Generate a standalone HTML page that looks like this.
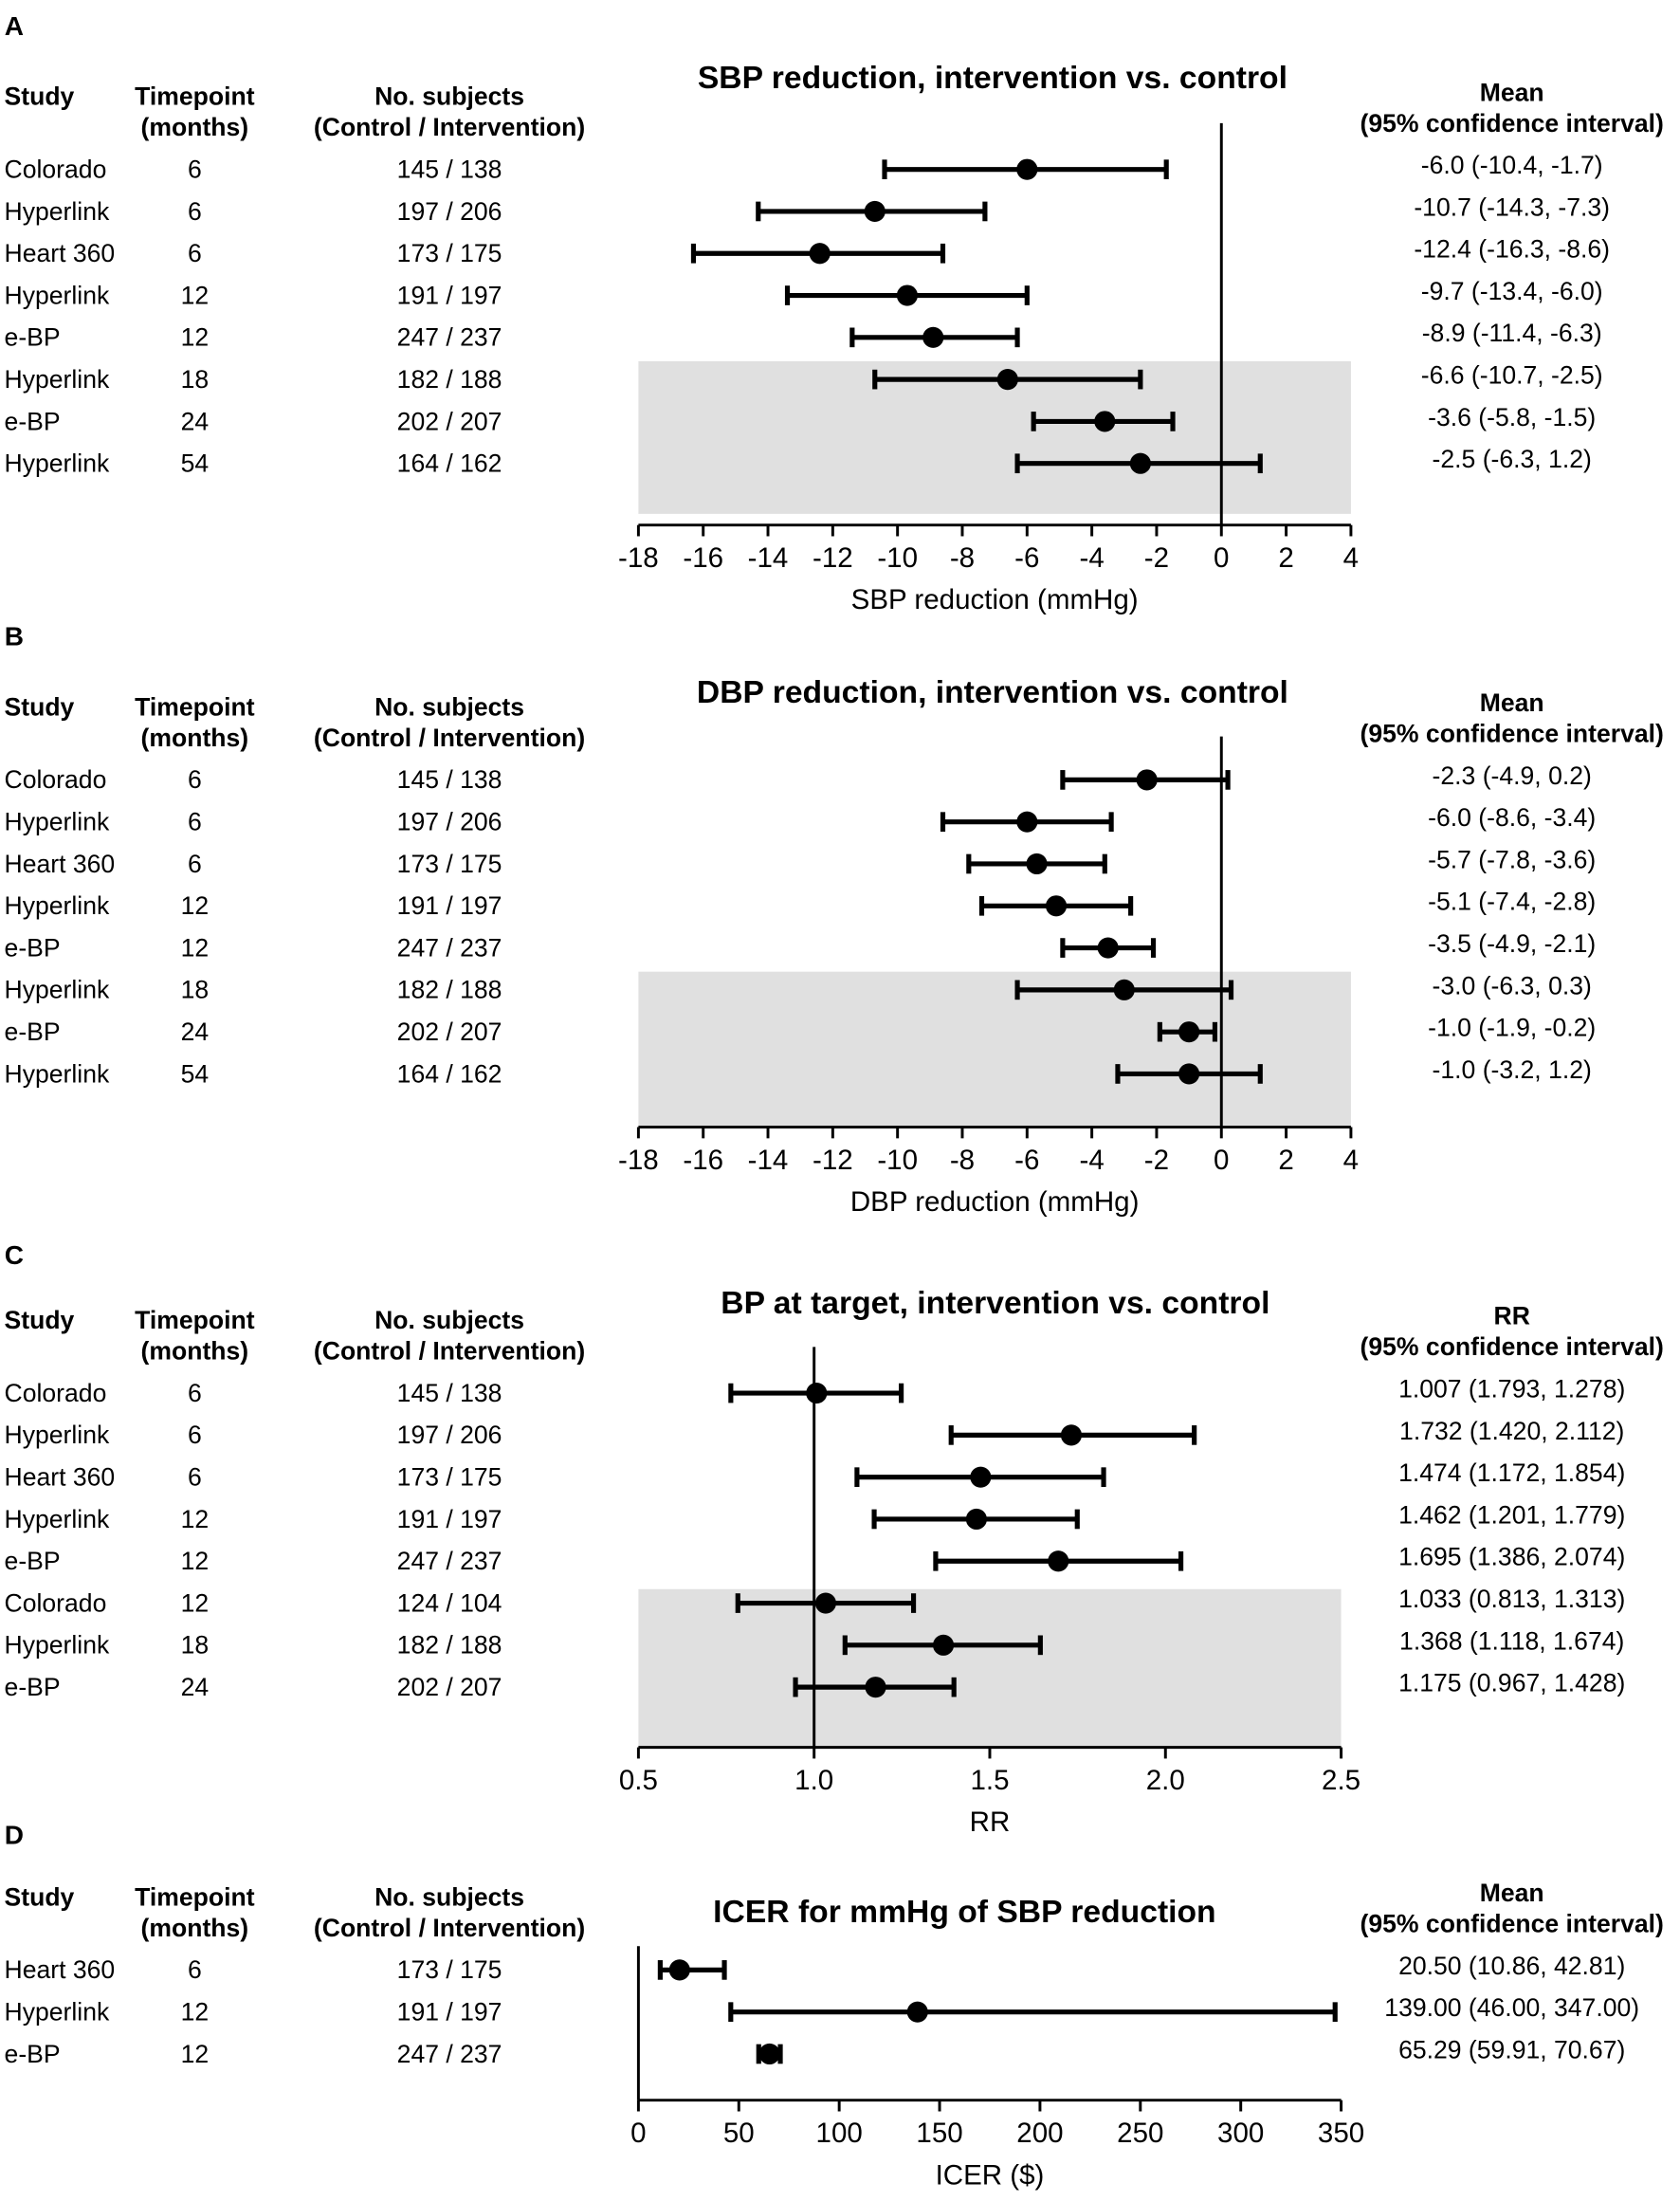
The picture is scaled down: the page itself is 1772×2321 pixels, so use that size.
<!DOCTYPE html>
<html><head><meta charset="utf-8"><style>
html,body{margin:0;padding:0;background:#fff}
svg{display:block}
text{font-family:"Liberation Sans",Arial,sans-serif;fill:#000}
.b{font-weight:bold}
</style></head><body>
<svg id="fig" width="1772" height="2321" viewBox="0 0 1200 1572" xmlns="http://www.w3.org/2000/svg"></svg>
<script>
const NS="http://www.w3.org/2000/svg";
const svg=document.getElementById('fig');
// ---- data ----
const studiesA=["Colorado","Hyperlink","Heart 360","Hyperlink","e-BP","Hyperlink","e-BP","Hyperlink"];
const timesA=["6","6","6","12","12","18","24","54"];
const subjA=["145 / 138","197 / 206","173 / 175","191 / 197","247 / 237","182 / 188","202 / 207","164 / 162"];
const sbpMean=[-6.0,-10.7,-12.4,-9.7,-8.9,-6.6,-3.6,-2.5];
const sbpLo=[-10.4,-14.3,-16.3,-13.4,-11.4,-10.7,-5.8,-6.3];
const sbpHi=[-1.7,-7.3,-8.6,-6.0,-6.3,-2.5,-1.5,1.2];
const dbpMean=[-2.3,-6.0,-5.7,-5.1,-3.5,-3.0,-1.0,-1.0];
const dbpLo=[-4.9,-8.6,-7.8,-7.4,-4.9,-6.3,-1.9,-3.2];
const dbpHi=[0.2,-3.4,-3.6,-2.8,-2.1,0.3,-0.2,1.2];
const studiesC=["Colorado","Hyperlink","Heart 360","Hyperlink","e-BP","Colorado","Hyperlink","e-BP"];
const timesC=["6","6","6","12","12","12","18","24"];
const subjC=["145 / 138","197 / 206","173 / 175","191 / 197","247 / 237","124 / 104","182 / 188","202 / 207"];
const rrMean=[1.007,1.732,1.474,1.462,1.695,1.033,1.368,1.175];
const rrLo=[0.763,1.390,1.122,1.171,1.346,0.783,1.088,0.947];
const rrHi=[1.248,2.082,1.824,1.749,2.044,1.283,1.644,1.398];
const rrLabels=["1.007 (1.793, 1.278)","1.732 (1.420, 2.112)","1.474 (1.172, 1.854)","1.462 (1.201, 1.779)","1.695 (1.386, 2.074)","1.033 (0.813, 1.313)","1.368 (1.118, 1.674)","1.175 (0.967, 1.428)"];
const studiesD=["Heart 360","Hyperlink","e-BP"];
const timesD=["6","12","12"];
const subjD=["173 / 175","191 / 197","247 / 237"];
const icerMean=[20.50,139.00,65.29];
const icerLo=[10.86,46.00,59.91];
const icerHi=[42.81,347.00,70.67];
const icerLabels=["20.50 (10.86, 42.81)","139.00 (46.00, 347.00)","65.29 (59.91, 70.67)"];
const ticksBP=[-18,-16,-14,-12,-10,-8,-6,-4,-2,0,2,4];
const ticksRR=[0.5,1.0,1.5,2.0,2.5];
const ticksICER=[0,50,100,150,200,250,300,350];
// ---- helpers ----
function el(tag,attrs,txt){const e=document.createElementNS(NS,tag);for(const k in attrs)e.setAttribute(k,attrs[k]);if(txt!==undefined)e.textContent=txt;svg.appendChild(e);return e;}
function T(x,y,s,size,anchor,bold,name){const e=el('text',{x:x,y:y,'font-size':size,'text-anchor':anchor||'start'},s);if(bold)e.setAttribute('class','b');


return e;}
function fmt1(v){return v.toFixed(1);}
function panel(o){
  const d=o.dy;
  T(10,o.letterY,o.letter,19,'middle',true,'panel-label');
  T(3,75+d,"Study",18,'start',true,'study-header');
  T(139,75+d,"Timepoint",18,'middle',true,'timepoint-header');
  T(139,97+d,"(months)",18,'middle',true,'timepoint-header-units');
  T(321,75+d,"No. subjects",18,'middle',true,'subjects-header');
  T(321,97+d,"(Control / Intervention)",18,'middle',true,'subjects-header-detail');
  T(o.titleX,o.titleY+d,o.title,22.8,'middle',true,'chart-title');
  T(1080,72+d,o.rightHead,18,'middle',true,'estimate-header');
  T(1080,94+d,"(95% confidence interval)",18,'middle',true,'estimate-header-ci');
  const x=v=>o.x0+(v-o.dmin)/(o.dmax-o.dmin)*(o.x1-o.x0);
  const rowY=i=>121+d+30*i;
  if(o.grey){const g=el('rect',{x:456,y:o.grey[0]+d,width:o.x1-456,height:o.grey[1]-o.grey[0],fill:'#e0e0e0'});
    
    }
  o.studies.forEach((s,i)=>{
    const y=rowY(i);
    T(3,y+6,s,18,'start',false,'study-name');
    T(139,y+6,o.times[i],18,'middle',false,'timepoint-value');
    T(321,y+6,o.subj[i],18,'middle',false,'subjects-value');
    T(1080,y+3,o.labels[i],18,'middle',false,'estimate-value');
  });
  const ay=o.axisY+d;
  const ax=el('line',{x1:o.x0,x2:o.x1,y1:ay,y2:ay,stroke:'#000','stroke-width':2});
  
  
  o.ticks.forEach(t=>{
    const tl=el('line',{x1:x(t),x2:x(t),y1:ay,y2:ay+8,stroke:'#000','stroke-width':2});
    
    
    T(x(t),ay+30,o.tickFmt(t),20,'middle',false,'x-tick-label');
  });
  T((o.x0+o.x1)/2,ay+60,o.axisTitle,20,'middle',false,'x-axis-title');
  const ref=el('line',{x1:x(o.refV),x2:x(o.refV),y1:o.refTop+d,y2:ay,stroke:'#000','stroke-width':2});
  
  
  o.mean.forEach((m,i)=>{
    const y=rowY(i);
    const l=el('line',{x1:x(o.lo[i]),x2:x(o.hi[i]),y1:y,y2:y,stroke:'#000','stroke-width':3.5});
    
    
    [o.lo[i],o.hi[i]].forEach(v=>{const c=el('line',{x1:x(v),x2:x(v),y1:y-7,y2:y+7,stroke:'#000','stroke-width':3.5});
      
      });
    const p=el('circle',{cx:x(m),cy:y,r:7.5,fill:'#000'});
    
    
  });
}
const bpLabelsA=sbpMean.map((m,i)=>`${fmt1(m)} (${fmt1(sbpLo[i])}, ${fmt1(sbpHi[i])})`);
const bpLabelsB=dbpMean.map((m,i)=>`${fmt1(m)} (${fmt1(dbpLo[i])}, ${fmt1(dbpHi[i])})`);
panel({dy:0,letterY:25,letter:"A",title:"SBP reduction, intervention vs. control",titleX:709,titleY:63,rightHead:"Mean",studies:studiesA,times:timesA,subj:subjA,labels:bpLabelsA,
 mean:sbpMean,lo:sbpLo,hi:sbpHi,x0:456,x1:965,dmin:-18,dmax:4,ticks:ticksBP,tickFmt:t=>String(t),axisY:375,axisTitle:"SBP reduction (mmHg)",refV:0,refTop:88,grey:[258,367]});
panel({dy:436,letterY:461,letter:"B",title:"DBP reduction, intervention vs. control",titleX:709,titleY:66,rightHead:"Mean",studies:studiesA,times:timesA,subj:subjA,labels:bpLabelsB,
 mean:dbpMean,lo:dbpLo,hi:dbpHi,x0:456,x1:965,dmin:-18,dmax:4,ticks:ticksBP,tickFmt:t=>String(t),axisY:369,axisTitle:"DBP reduction (mmHg)",refV:0,refTop:90,grey:[258,369]});
panel({dy:874,letterY:903,letter:"C",title:"BP at target, intervention vs. control",titleX:711,titleY:64,rightHead:"RR",studies:studiesC,times:timesC,subj:subjC,labels:rrLabels,
 mean:rrMean,lo:rrLo,hi:rrHi,x0:456,x1:958,dmin:0.5,dmax:2.5,ticks:ticksRR,tickFmt:t=>t.toFixed(1),axisY:374,axisTitle:"RR",refV:1.0,refTop:88,grey:[261,374]});
panel({dy:1286,letterY:1317,letter:"D",title:"ICER for mmHg of SBP reduction",titleX:689,titleY:87,rightHead:"Mean",studies:studiesD,times:timesD,subj:subjD,labels:icerLabels,
 mean:icerMean,lo:icerLo,hi:icerHi,x0:456,x1:958,dmin:0,dmax:350,ticks:ticksICER,tickFmt:t=>String(t),axisY:214,axisTitle:"ICER ($)",refV:0,refTop:104,grey:null});
</script>
</body></html>
